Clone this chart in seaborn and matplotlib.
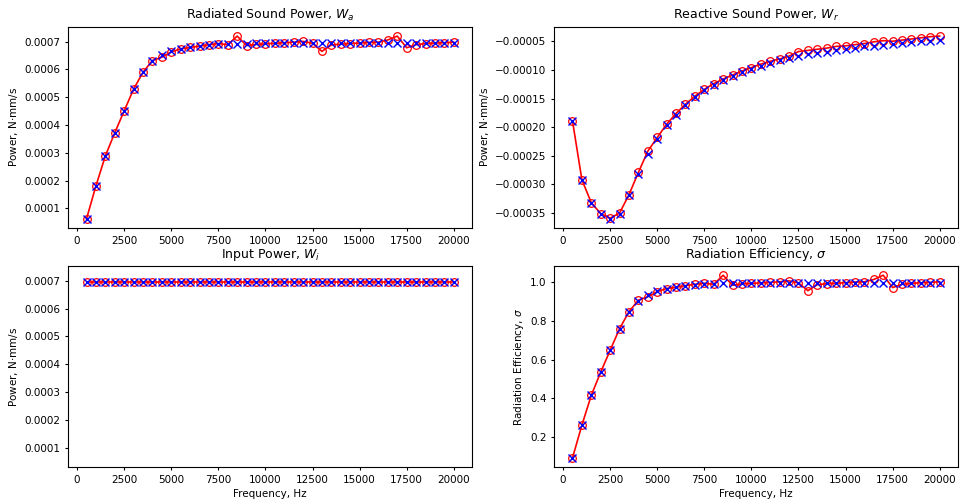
import numpy as np
import pandas as pd
import matplotlib
matplotlib.use('Agg')
import matplotlib.pyplot as plt
import seaborn as sns

freq = list(range(500, 20001, 500))

# radiated sound power (red = numerical, blue = analytical)
wa_num = [0.0000626, 0.000181, 0.000289, 0.000372, 0.000451, 0.000529, 0.000590, 0.000632,
          0.000644, 0.000663, 0.000674, 0.000679, 0.000684, 0.000689, 0.000693, 0.000689,
          0.000720, 0.000686, 0.000690, 0.000692, 0.000694, 0.000696, 0.000698, 0.000701,
          0.000694, 0.000665, 0.000688, 0.000691, 0.000693, 0.000695, 0.000697, 0.000698,
          0.000706, 0.000720, 0.000678, 0.000689, 0.000693, 0.000695, 0.000696, 0.000698]
wa_ana = [0.0000626, 0.000181, 0.000289, 0.000372, 0.000451, 0.000529, 0.000590, 0.000630,
          0.000651, 0.000665, 0.000674, 0.000680, 0.000684, 0.000688, 0.000690, 0.000691,
          0.000692, 0.000693, 0.000694, 0.000694, 0.000695, 0.000695, 0.000695, 0.000695,
          0.000696, 0.000696, 0.000696, 0.000696, 0.000696, 0.000696, 0.000696, 0.000696,
          0.000696, 0.000696, 0.000696, 0.000696, 0.000696, 0.000696, 0.000696, 0.000696]

# reactive sound power
wr_num = [-0.000189, -0.000292, -0.000332, -0.000351, -0.000359, -0.000350, -0.000318, -0.000279,
          -0.000242, -0.000218, -0.000195, -0.000176, -0.000160, -0.000146, -0.000134, -0.000124,
          -0.000116, -0.000109, -0.000102, -0.000096, -0.000090, -0.000085, -0.000081, -0.000076,
          -0.000068, -0.000066, -0.000064, -0.000062, -0.000059, -0.000058, -0.000056, -0.000054,
          -0.000051, -0.000049, -0.000050, -0.000048, -0.000046, -0.000044, -0.000042, -0.000041]
wr_ana = [-0.000189, -0.000293, -0.000333, -0.000351, -0.000360, -0.000351, -0.000319, -0.000281,
          -0.000247, -0.000220, -0.000197, -0.000178, -0.000162, -0.000148, -0.000136, -0.000126,
          -0.000118, -0.000111, -0.000104, -0.000098, -0.000093, -0.000088, -0.000083, -0.000079,
          -0.000075, -0.000072, -0.000070, -0.000068, -0.000065, -0.000063, -0.000061, -0.000059,
          -0.000058, -0.000056, -0.000054, -0.000053, -0.000052, -0.000050, -0.000049, -0.000048]

# input power
wi_num = [0.000694] * 40
wi_ana = [0.000695] * 40

# radiation efficiency
sig_num = [0.090, 0.260, 0.415, 0.535, 0.648, 0.760, 0.848, 0.908, 0.925, 0.952,
           0.968, 0.975, 0.983, 0.990, 0.995, 0.990, 1.037, 0.985, 0.992, 0.995,
           0.997, 1.000, 1.003, 1.008, 0.997, 0.957, 0.988, 0.993, 0.996, 0.998,
           1.002, 1.003, 1.015, 1.037, 0.973, 0.990, 0.995, 0.998, 1.000, 1.003]
sig_ana = [0.090, 0.260, 0.415, 0.535, 0.648, 0.760, 0.848, 0.905, 0.935, 0.955,
           0.968, 0.977, 0.983, 0.988, 0.991, 0.993, 0.995, 0.996, 0.997, 0.997,
           0.998, 0.998, 0.999, 0.999, 0.999, 0.999, 0.999, 0.999, 0.999, 0.999,
           0.999, 0.999, 0.999, 0.999, 0.999, 0.999, 0.999, 0.999, 0.999, 0.999]

plt.rcParams['font.size'] = 8

fig, axes = plt.subplots(2, 2, figsize=(9.6, 4.99), dpi=100)
fig.subplots_adjust(left=0.071, right=0.998, top=0.946, bottom=0.064, wspace=0.203, hspace=0.19)

panels = [
    (axes[0, 0], wa_num, wa_ana, 'Radiated Sound Power, $W_a$', 'Power, N$\\cdot$mm/s'),
    (axes[0, 1], wr_num, wr_ana, 'Reactive Sound Power, $W_r$', 'Power, N$\\cdot$mm/s'),
    (axes[1, 0], wi_num, wi_ana, 'Input Power, $W_i$', 'Power, N$\\cdot$mm/s'),
    (axes[1, 1], sig_num, sig_ana, 'Radiation Efficiency, $\\sigma$', 'Radiation Efficiency, $\\sigma$'),
]

for ax, ynum, yana, title, ylab in panels:
    df = pd.DataFrame({'f': freq, 'num': ynum, 'ana': yana})
    sns.lineplot(data=df, x='f', y='num', ax=ax, color='red', lw=1.2,
                 marker='o', markersize=5.5, markerfacecolor='none', markeredgecolor='red',
                 markeredgewidth=0.9)
    sns.lineplot(data=df, x='f', y='ana', ax=ax, color='blue', linestyle='',
                 marker='x', markersize=5.5, markeredgecolor='blue', markeredgewidth=1)
    ax.set_title(title, fontsize=9)
    ax.set_ylabel(ylab, fontsize=7.5, labelpad=3)
    ax.set_xlabel('')
    ax.tick_params(labelsize=7.5, length=2.5, pad=3)

axes[1, 0].set_ylim(axes[0, 0].get_ylim())
axes[1, 0].set_xlabel('Frequency, Hz', fontsize=7.5, labelpad=3)
axes[1, 1].set_xlabel('Frequency, Hz', fontsize=7.5, labelpad=3)

fig.savefig('out.png', dpi=100)
